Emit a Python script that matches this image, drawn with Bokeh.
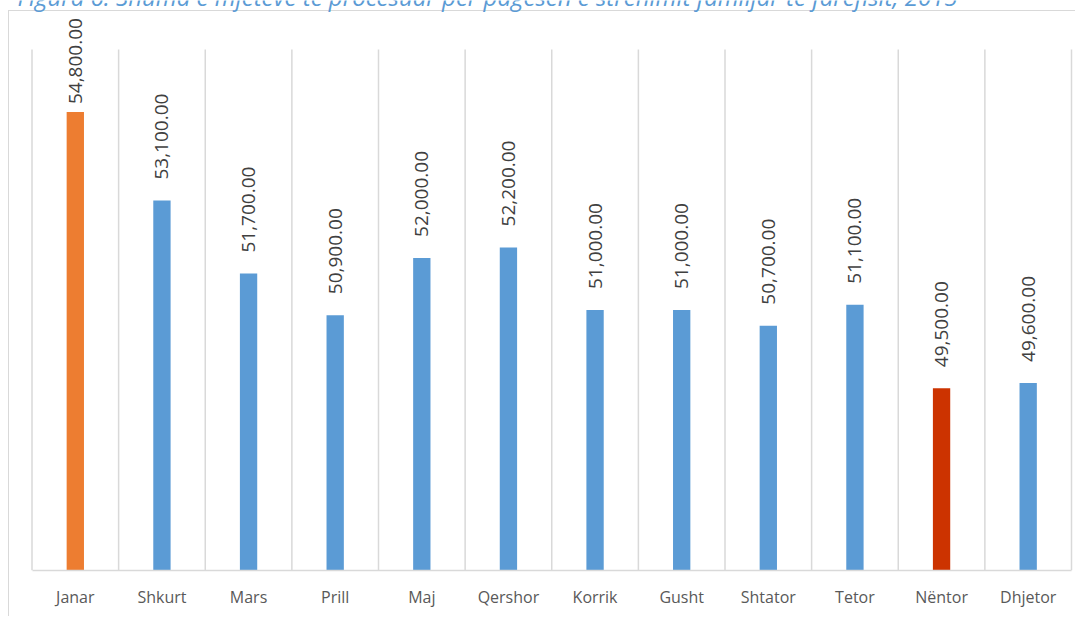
from bokeh.plotting import figure
from bokeh.models import ColumnDataSource, LabelSet, Label, Range1d, FixedTicker
from bokeh.embed import file_html
from bokeh.resources import INLINE
from bokeh.core.properties import value
import math

# ---- data ----
months = ["Janar", "Shkurt", "Mars", "Prill", "Maj", "Qershor", "Korrik",
          "Gusht", "Shtator", "Tetor", "Nëntor", "Dhjetor"]
amounts = [54800, 53100, 51700, 50900, 52000, 52200, 51000, 51000,
           50700, 51100, 49500, 49600]
title_text = ("Figura 6: Shuma e mjeteve të procesuar për pagesën e "
              "strehimit familjar të farefisit, 2015")
y_min, y_max = 46000, 56000

# ---- styling ----
BLUE, ORANGE, RED = "#5B9BD5", "#ED7D31", "#CC3300"
colors = []
for v in amounts:
    if v == max(amounts):
        colors.append(ORANGE)
    elif v == min(amounts):
        colors.append(RED)
    else:
        colors.append(BLUE)
labels = [f"{v:,.2f}" for v in amounts]
offsets = [8 if v == max(amounts) else 21 for v in amounts]
xs = [i + 0.5 for i in range(len(months))]

src = ColumnDataSource(dict(x=xs, v=amounts, c=colors, t=labels, o=offsets))

W, H = 1075, 616
FRAME_BOTTOM = 570          # pixel row of the category axis
CAT_PX = 1039.5 / len(months)
x_start = -31.5 / CAT_PX
x_end = x_start + W / CAT_PX
px_per_unit = (FRAME_BOTTOM - 49) / (y_max - y_min)
y_top = y_max + 49 / px_per_unit

p = figure(x_range=Range1d(x_start, x_end), y_range=Range1d(y_min, y_top),
           width=W, height=H, output_backend="svg", toolbar_location=None,
           min_border_left=0, min_border_right=0, min_border_top=0,
           min_border_bottom=H - FRAME_BOTTOM)
p.styles = {
    "margin-top": "0px",
    "margin-left": "0px",
    "background-image": "linear-gradient(#d9d9d9, #d9d9d9), linear-gradient(#d9d9d9, #d9d9d9)",
    "background-size": "1px 100%, 100% 1px",
    "background-position": "8px 10px, 8px 10px",
    "background-repeat": "no-repeat",
}
p.border_fill_color = None
p.background_fill_color = None
p.outline_line_color = None
p.xgrid.visible = False
p.ygrid.visible = False
p.yaxis.visible = False

# vertical separators between categories
bounds = list(range(len(months) + 1))
p.segment(x0=bounds, x1=bounds, y0=[y_min] * len(bounds), y1=[y_max] * len(bounds),
          line_color="#d9d9d9", line_width=1.5)

p.vbar(x="x", top="v", bottom=y_min, width=0.2, fill_color="c", line_color=None, source=src)

p.add_layout(LabelSet(x="x", y="v", text="t", source=src, angle=math.pi / 2,
                      y_offset="o", text_align="left", text_baseline="middle",
                      text_font=value("Open Sans"), text_font_size="19px",
                      text_color="#404040"))

p.add_layout(Label(x=x_start + 17 / CAT_PX, y=y_max + 53 / px_per_unit, text=title_text,
                   text_font="Open Sans", text_font_size="24px", text_font_style="italic",
                   text_color=BLUE, text_baseline="alphabetic", text_align="left"))

ax = p.xaxis[0]
ax.ticker = FixedTicker(ticks=xs)
ax.major_label_overrides = {x: m for x, m in zip(xs, months)}
ax.bounds = (0, len(months))
ax.axis_line_color = "#d9d9d9"
ax.axis_line_width = 1.5
ax.major_tick_line_color = None
ax.minor_tick_line_color = None
ax.major_label_text_font = "Open Sans"
ax.major_label_text_font_size = "16px"
ax.major_label_text_color = "#595959"
ax.major_label_standoff = 9

open("out.html", "w").write(file_html(p, INLINE))
